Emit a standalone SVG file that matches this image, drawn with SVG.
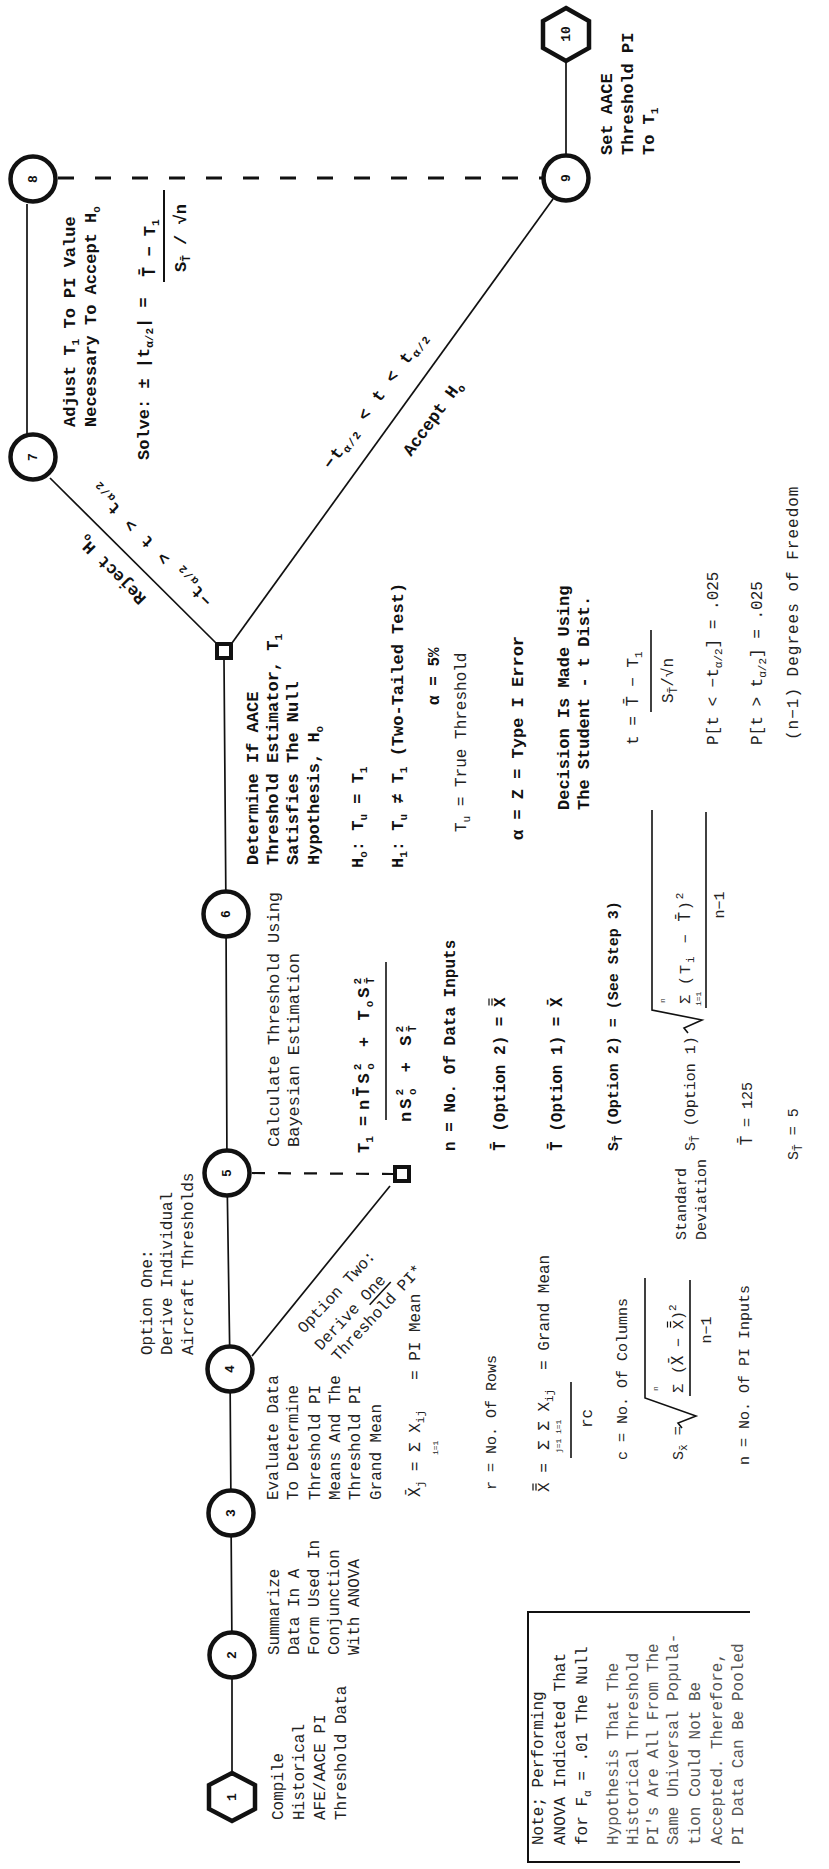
<svg xmlns="http://www.w3.org/2000/svg" width="829" height="1869" viewBox="0 0 829 1869">
<style>
.ln{stroke:#111;stroke-width:1.7;fill:none}
.fl{stroke:#111;stroke-width:1.6;fill:none}
.ob{stroke:#111;stroke-width:1.2;fill:none}
.dash{stroke:#111;stroke-width:2.8;fill:none;stroke-dasharray:16 21}
.dash2{stroke:#111;stroke-width:2.2;fill:none;stroke-dasharray:13 13}
.nd{fill:#fff;stroke:#111;stroke-width:4.5}
.lbl{font-family:"Liberation Mono","DejaVu Sans Mono",monospace;font-weight:bold;font-size:13px;fill:#111;text-anchor:middle;dominant-baseline:central}
.b{font-family:"Liberation Mono","DejaVu Sans Mono",monospace;font-weight:bold;font-size:17px;fill:#111}
.r{font-family:"Liberation Mono","DejaVu Sans Mono",monospace;font-size:16px;fill:#222}
.dj{font-family:"DejaVu Sans Mono",monospace}
.r15{font-size:15px}
.f{fill:#555}
.s{font-size:11px}
.ti{font-size:8px}
.mid{text-anchor:middle}
</style>
<rect width="829" height="1869" fill="#fff"/>

<g id="connectors">
 <polyline class="ln" points="232,1773 232,1655 231,1513 230,1369 227,1173 226,914 224,660"/>
 <line class="ln" x1="252" y1="1356" x2="390" y2="1186"/>
 <line class="dash2" x1="252" y1="1173" x2="393" y2="1174"/>
 <line class="ln" x1="217" y1="644" x2="50" y2="478"/>
 <line class="ln" x1="232" y1="643" x2="553" y2="199"/>
 <line class="ln" x1="27" y1="204" x2="27" y2="434"/>
 <line class="dash" x1="58" y1="178" x2="542" y2="178"/>
 <line class="ln" x1="566" y1="61" x2="566" y2="155"/>
</g>

<g id="n1"><polygon class="nd" points="232,1773 255,1785 255,1809 232,1821 209,1809 209,1785"/><text class="lbl" transform="translate(232,1797) rotate(-90)">1</text></g>
<g id="n2"><circle class="nd" cx="232" cy="1655" r="22.5"/><text class="lbl" transform="translate(232,1655) rotate(-90)">2</text></g>
<g id="n3"><circle class="nd" cx="231" cy="1513" r="22.5"/><text class="lbl" transform="translate(231,1513) rotate(-90)">3</text></g>
<g id="n4"><circle class="nd" cx="230" cy="1369" r="22.5"/><text class="lbl" transform="translate(230,1369) rotate(-90)">4</text></g>
<g id="n5"><circle class="nd" cx="227" cy="1173" r="22.5"/><text class="lbl" transform="translate(227,1173) rotate(-90)">5</text></g>
<g id="n6"><circle class="nd" cx="226" cy="914" r="22.5"/><text class="lbl" transform="translate(226,914) rotate(-90)">6</text></g>
<g id="d1"><rect class="nd" x="217" y="644" width="14" height="14" style="stroke-width:4"/></g>
<g id="d2"><rect class="nd" x="395" y="1167" width="14" height="14" style="stroke-width:4"/></g>
<g id="n7"><circle class="nd" cx="33" cy="457" r="22.5"/><text class="lbl" transform="translate(33,457) rotate(-90)">7</text></g>
<g id="n8"><circle class="nd" cx="33" cy="179" r="22.5"/><text class="lbl" transform="translate(33,179) rotate(-90)">8</text></g>
<g id="n9"><circle class="nd" cx="566" cy="178" r="22.5"/><text class="lbl" transform="translate(566,178) rotate(-90)">9</text></g>
<g id="n10"><polygon class="nd" points="566,8 589,21 589,48 566,61 543,48 543,21"/><text class="lbl" transform="translate(566,34) rotate(-90)">10</text></g>

<g id="notes">
 <path class="ln" d="M750,1612 L528,1612 L528,1862 L740,1862" style="stroke-width:2"/>
</g>

<g id="texts" transform="rotate(-90)">
 <text class="r" x="-1820" y="283">Compile</text>
 <text class="r" x="-1820" y="304">Historical</text>
 <text class="r" x="-1820" y="325">AFE/AACE PI</text>
 <text class="r" x="-1820" y="346">Threshold Data</text>
 <text class="r" x="-1655" y="279">Summarize</text>
 <text class="r" x="-1655" y="299">Data In A</text>
 <text class="r" x="-1655" y="319">Form Used In</text>
 <text class="r" x="-1655" y="339">Conjunction</text>
 <text class="r" x="-1655" y="359">With ANOVA</text>
 <text class="r" x="-1500" y="278">Evaluate Data</text>
 <text class="r" x="-1500" y="298">To Determine</text>
 <text class="r" x="-1500" y="320">Threshold PI</text>
 <text class="r" x="-1500" y="340">Means And The</text>
 <text class="r" x="-1500" y="360">Threshold PI</text>
 <text class="r" x="-1500" y="381">Grand Mean</text>
 <text class="r" x="-1355" y="152">Option One:</text>
 <text class="r" x="-1355" y="172">Derive Individual</text>
 <text class="r" x="-1355" y="193">Aircraft Thresholds</text>

 <text class="r" x="-1497" y="420"><tspan class="dj">X̄</tspan><tspan class="s" dy="4">j</tspan><tspan dy="-4"> = Σ X</tspan><tspan class="s" dy="4">ij</tspan></text>
 <text class="r ti" x="-1455" y="438">i=1</text>
 <text class="r" x="-1380" y="420">= PI Mean</text>
 <text class="r r15" x="-1490" y="496">r    = No. Of Rows</text>
 <text class="r" x="-1492" y="549">X =</text>
 <path class="ob" d="M-1490.5,536 H-1483.5 M-1490.5,533 H-1483.5"/>
 <text class="r" x="-1450" y="549">Σ Σ X<tspan class="s" dy="4">ij</tspan></text>
 <text class="r ti" x="-1453" y="561">j=1</text>
 <text class="r ti" x="-1434" y="561">i=1</text>
 <line class="fl" x1="-1458" y1="571" x2="-1382" y2="571"/>
 <text class="r" x="-1428" y="592">rc</text>
 <text class="r" x="-1370" y="549">= Grand Mean</text>
 <text class="r r15" x="-1460" y="627">c  = No. Of Columns</text>
 <text class="r r15" x="-1460" y="683">S<tspan class="s dj" dy="4">x̄</tspan><tspan dy="-4"> =</tspan></text>
 <path class="fl" d="M-1428,682 L-1423,678 L-1416,696 L-1398,645 L-1278,645"/>
 <text class="r ti" x="-1391" y="658">n</text>
 <text class="r r15" x="-1393" y="683">Σ</text>
 <text class="r r15" x="-1374" y="683">(<tspan class="dj">X̄</tspan> − X)<tspan class="s" dy="-7">2</tspan></text>
 <path class="ob" d="M-1327.5,670.5 H-1321.5 M-1327.5,667.5 H-1321.5"/>
 <line class="fl" x1="-1396" y1="690" x2="-1280" y2="690"/>
 <text class="r r15 mid" x="-1330" y="711">n−1</text>
 <text class="r r15" x="-1465" y="749">n  = No. Of PI Inputs</text>
 <text class="r r15" x="-1240" y="686">Standard</text>
 <text class="r r15" x="-1240" y="706">Deviation</text>

 <text class="r" x="-1147" y="279" style="font-size:17px">Calculate Threshold Using</text>
 <text class="r" x="-1147" y="299" style="font-size:17px">Bayesian Estimation</text>
 <text class="b" x="-1153" y="369">T<tspan class="s" dy="4">1</tspan><tspan dy="-4"> =</tspan></text>
 <text class="b" x="-1110" y="369" style="letter-spacing:3px">n<tspan class="dj">T̄</tspan>S<tspan class="s" dy="-8">2</tspan><tspan class="s" dx="-9" dy="13">o</tspan><tspan dy="-5"> + T</tspan><tspan class="s" dy="4">o</tspan><tspan dy="-4">S</tspan><tspan class="s" dy="-8">2</tspan><tspan class="s dj" dx="-9" dy="13">T̄</tspan></text>
 <line class="fl" x1="-1120" y1="386" x2="-962" y2="386"/>
 <text class="b" x="-1122" y="411" style="letter-spacing:3px">nS<tspan class="s" dy="-8">2</tspan><tspan class="s" dx="-9" dy="13">o</tspan><tspan dy="-5"> + S</tspan><tspan class="s" dy="-8">2</tspan><tspan class="s dj" dx="-9" dy="13">T̄</tspan></text>
 <text class="b" x="-1151" y="455" style="font-size:16px">n = No. Of Data Inputs</text>
 <text class="b" x="-1151" y="505" style="font-size:16px"><tspan class="dj">T̄</tspan> (Option 2) = X</text>
 <path class="ob" d="M-1005.5,492 H-998.5 M-1005.5,489 H-998.5"/>
 <text class="b" x="-1151" y="562" style="font-size:16px"><tspan class="dj">T̄</tspan> (Option 1) = <tspan class="dj">X̄</tspan></text>
 <text class="b" x="-1151" y="618" style="font-size:15px">S<tspan class="s dj" dy="4">T̄</tspan><tspan dy="-4"> (Option 2) = (See Step 3)</tspan></text>
 <text class="r r15" x="-1151" y="695">S<tspan class="s dj" dy="4">T̄</tspan><tspan dy="-4"> (Option 1)</tspan></text>
 <path class="fl" d="M-1033,688 L-1028,684 L-1020,702 L-1010,652 L-810,652"/>
 <text class="r ti" x="-1003" y="665">n</text>
 <text class="r r15" x="-1004" y="690">Σ</text>
 <text class="r ti" x="-1006" y="701">i=1</text>
 <text class="r r15" x="-985" y="690" style="letter-spacing:2px">(T<tspan class="s" dy="4">i</tspan><tspan dy="-4">  −  </tspan><tspan class="dj">T̄</tspan>)<tspan class="s" dy="-7">2</tspan></text>
 <line class="fl" x1="-1008" y1="706" x2="-812" y2="706"/>
 <text class="r r15 mid" x="-905" y="724">n−1</text>
 <text class="r r15" x="-1145" y="752"><tspan class="dj">T̄</tspan> = 125</text>
 <text class="r r15" x="-1160" y="798">S<tspan class="s dj" dy="4">T̄</tspan><tspan dy="-4"> = 5</tspan></text>

 <text class="b" x="-865" y="258">Determine If AACE</text>
 <text class="b" x="-865" y="278">Threshold Estimator, T<tspan class="s" dy="4">1</tspan></text>
 <text class="b" x="-865" y="298">Satisfies The Null</text>
 <text class="b" x="-865" y="319">Hypothesis, H<tspan class="s" dy="4">o</tspan></text>
 <text class="b" x="-868" y="363">H<tspan class="s" dy="4">o</tspan><tspan dy="-4">: T</tspan><tspan class="s" dy="4">u</tspan><tspan dy="-4"> = T</tspan><tspan class="s" dy="4">1</tspan></text>
 <text class="b" x="-868" y="403">H<tspan class="s" dy="4">1</tspan><tspan dy="-4">: T</tspan><tspan class="s" dy="4">u</tspan><tspan dy="-4"> ≠ T</tspan><tspan class="s" dy="4">1</tspan><tspan dy="-4">  (Two-Tailed Test)</tspan></text>
 <text class="b" x="-705" y="439" style="font-size:16px">α = 5%</text>
 <text class="r" x="-832" y="466">T<tspan class="s" dy="4">u</tspan><tspan dy="-4"> = True Threshold</tspan></text>
 <text class="b" x="-840" y="523">α = Z = Type I Error</text>
 <text class="b" x="-810" y="569">Decision Is Made Using</text>
 <text class="b" x="-810" y="589">The Student - t Dist.</text>
 <text class="r" x="-745" y="638">t =</text>
 <text class="r" x="-706" y="638"><tspan class="dj">T̄</tspan> − T<tspan class="s" dy="4">1</tspan></text>
 <line class="fl" x1="-712" y1="651" x2="-630" y2="651"/>
 <text class="r" x="-703" y="673">S<tspan class="s dj" dy="4">T̄</tspan><tspan dy="-4">/√n</tspan></text>
 <text class="r" x="-745" y="718">P[t &lt; −t<tspan class="s" dy="4">α/2</tspan><tspan dy="-4">] = .025</tspan></text>
 <text class="r" x="-745" y="762">P[t &gt; t<tspan class="s" dy="4">α/2</tspan><tspan dy="-4">] = .025</tspan></text>
 <text class="r" x="-740" y="798" style="letter-spacing:1px">(n−1) Degrees of Freedom</text>

 <text class="b" x="-427" y="75">Adjust T<tspan class="s" dy="4">1</tspan><tspan dy="-4"> To PI Value</tspan></text>
 <text class="b" x="-427" y="96">Necessary To Accept H<tspan class="s" dy="4">o</tspan></text>
 <text class="b" x="-460" y="149">Solve: ± |t<tspan class="s" dy="4">α/2</tspan><tspan dy="-4">| =</tspan></text>
 <text class="b" x="-277" y="155"><tspan class="dj">T̄</tspan> − T<tspan class="s" dy="4">1</tspan></text>
 <line class="fl" x1="-282" y1="164" x2="-190" y2="164" style="stroke-width:2"/>
 <text class="b" x="-272" y="186">S<tspan class="s dj" dy="4">T̄</tspan><tspan dy="-4"> / √n</tspan></text>

 <text class="b" x="-155" y="612">Set AACE</text>
 <text class="b" x="-155" y="633">Threshold PI</text>
 <text class="b" x="-155" y="654">To T<tspan class="s" dy="4">1</tspan></text>

 <text class="r" x="-1845" y="543">Note; Performing</text>
 <text class="r" x="-1845" y="565">ANOVA Indicated That</text>
 <text class="r" x="-1845" y="587">for F<tspan class="s" dy="4">α</tspan><tspan dy="-4"> = .01 The Null</tspan></text>
 <text class="r f" x="-1845" y="618">Hypothesis That The</text>
 <text class="r f" x="-1845" y="638">Historical Threshold</text>
 <text class="r f" x="-1845" y="658">PI's Are All From The</text>
 <text class="r f" x="-1845" y="678">Same Universal Popula-</text>
 <text class="r f" x="-1845" y="700">tion Could Not Be</text>
 <text class="r f" x="-1845" y="722">Accepted. Therefore,</text>
 <text class="r f" x="-1845" y="743">PI Data Can Be Pooled</text>
</g>

<g id="diag-labels">
 <g transform="translate(304,1334) rotate(-47)"><text class="r">Option Two:</text></g>
 <g transform="translate(321,1351) rotate(-47)"><text class="r">Derive One</text><line class="fl" x1="67" y1="4" x2="98" y2="4"/></g>
 <g transform="translate(338,1362) rotate(-47)"><text class="r">Threshold PI*</text></g>
 <text class="b" transform="translate(147,598) rotate(-135)">Reject H<tspan class="s" dy="4">o</tspan></text>
 <text class="b" style="letter-spacing:1.5px" transform="translate(213,600) rotate(-135)">−t<tspan class="s" dy="4">α/2</tspan><tspan dy="-4"> &gt; t &gt; t</tspan><tspan class="s" dy="4">α/2</tspan></text>
 <text class="b" style="letter-spacing:1.5px" transform="translate(331,470) rotate(-54)">−t<tspan class="s" dy="4">α/2</tspan><tspan dy="-4"> &lt; t &lt; t</tspan><tspan class="s" dy="4">α/2</tspan></text>
 <text class="b" transform="translate(411,457) rotate(-54)">Accept H<tspan class="s" dy="4">o</tspan></text>
</g>
</svg>
